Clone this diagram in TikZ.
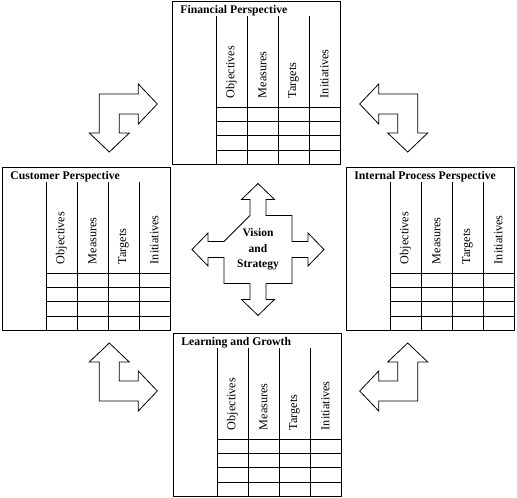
\documentclass[tikz,border=0pt]{standalone}
\usepackage{fontspec}
\setmainfont{Liberation Serif}
\usepackage{tikz}
\usetikzlibrary{calc, positioning}
\tikzset{every picture/.append style={line width=0.8pt}}
\tikzset{
  pbox/.style={draw, anchor=north west, minimum width=168pt, minimum height=163pt, inner sep=0pt, outer sep=0pt},
  ptitle/.style={anchor=base west, inner sep=0pt, font=\fontsize{11.7}{13}\selectfont\bfseries},
  plabel/.style={rotate=90, anchor=west, inner sep=0pt, font=\fontsize{12.2}{14}\selectfont},
  vtext/.style={align=center, font=\fontsize{11.5}{15.5}\selectfont\bfseries}
}

% one perspective table: name, x, y, title
\newcommand{\perspectivebox}[4]{%
  \node[pbox] (#1) at (#2,#3) {};
  \node[ptitle] (#1-title) at ($(#1.north west)+(8,12)$) {#4};
  \foreach \lbl [count=\i from 0] in {Objectives,Measures,Targets,Initiatives} {
    \draw ($(#1.north west)+(44+31*\i,15)$) -- ($(#1.south west)+(44+31*\i,0)$);
    \node[plabel] (#1-\i) at ($(#1.north west)+(59.5+31*\i,97.5)$) {\lbl};
  }
  \foreach \r in {0,...,3}
    \draw ($(#1.north west)+(44,106+14.3*\r)$) -- ($(#1.north east)+(0,106+14.3*\r)$);
}

\begin{document}
\begin{tikzpicture}[x=1pt, y=-1pt]
    \useasboundingbox (0,0) rectangle (517,498);

    % Perspective tables
    \perspectivebox{fin}{172}{1}{Financial Perspective}
    \perspectivebox{cust}{2}{167}{Customer Perspective}
    \perspectivebox{proc}{346}{167}{Internal Process Perspective}
    \perspectivebox{learn}{173}{333}{Learning and Growth}

    % Corner arrows
    \foreach \cx/\cy/\sx/\sy in {99.3/94/1/1, 417.7/94/-1/1, 99.3/401/1/-1, 417.7/401/-1/-1} {
      \begin{scope}[shift={(\cx,\cy)}, xscale=\sx, yscale=\sy]
        \draw (0,0) -- (39,0) -- (39,-10) -- (58,10) -- (39,30) -- (39,20) -- (20,20)
              -- (20,39) -- (30,39) -- (10,58) -- (-10,39) -- (0,39) -- cycle;
      \end{scope}
    }

    % Centre arrow
    \begin{scope}[shift={(258,249.5)}]
      \draw (-8,-34) -- (-8,-50) -- (-16.5,-50) -- (0,-66) -- (16.5,-50) -- (8,-50) -- (8,-34)
         -- (34,-34) -- (34,-8) -- (50,-8) -- (50,-16.5) -- (66,0) -- (50,16.5) -- (50,8) -- (34,8)
         -- (34,34) -- (8,34) -- (8,50) -- (16.5,50) -- (0,66) -- (-16.5,50) -- (-8,50) -- (-8,34)
         -- (-34,34) -- (-34,8) -- (-50,8) -- (-50,16.5) -- (-66,0) -- (-50,-16.5) -- (-50,-8) -- (-34,-8)
         -- cycle;
      \node[vtext] (vision) at (0,0) {Vision\\and\\Strategy};
    \end{scope}
\end{tikzpicture}
\end{document}
